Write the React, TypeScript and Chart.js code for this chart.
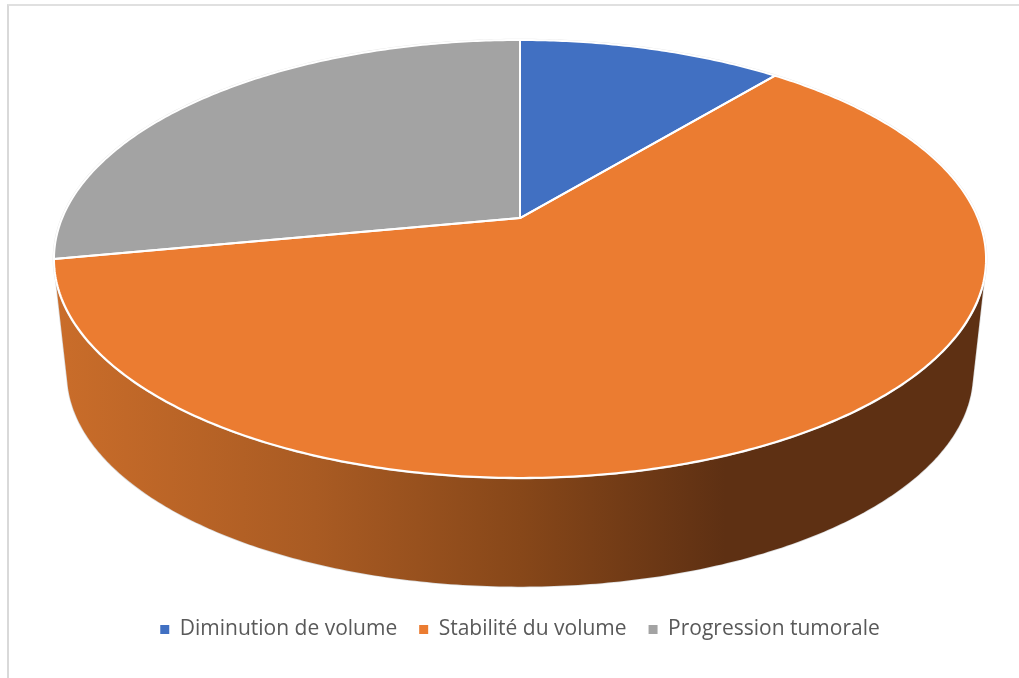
import React, { useEffect, useRef } from "react";
import { Chart, registerables } from "chart.js";

Chart.register(...registerables);

const categories = ["Diminution de volume", "Stabilité du volume", "Progression tumorale"];
const shares = [11, 61, 28];
const sliceColors = ["#4170c2", "#eb7c31", "#a3a3a3"];
const wallStops: [number, string][] = [
  [0, "#ca6d2a"],
  [0.28, "#a95b23"],
  [0.5, "#874719"],
  [0.72, "#5e3013"],
  [1, "#5e3013"],
];

// Perspective of the tilted disc, as ratios of the half width of the chart area.
const K = 0.187;
const BX = 0.9824;
const BY = 0.4534;
const APEX = 0.382;
const FLOOR_SCALE = 0.972;
const FLOOR_DROP = 0.249;

const RX = { v: 1 };

function project(a: number, r: number, cx: number, top: number, lower: boolean) {
  const u = Math.cos(a) * r;
  const v = -Math.sin(a) * r;
  const w = 1 + K * v;
  const s = lower ? FLOOR_SCALE : 1;
  const d = lower ? FLOOR_DROP : 0;
  return { x: cx + (s * BX * u * RX.v) / w, y: top + (APEX + d) * RX.v - (s * BY * v * RX.v) / w };
}

type P = { x: number; y: number };

function hull(points: P[]): P[] {
  const pts = [...points].sort((a, b) => a.x - b.x || a.y - b.y);
  const cross = (o: P, a: P, b: P) => (a.x - o.x) * (b.y - o.y) - (a.y - o.y) * (b.x - o.x);
  const lo: P[] = [];
  for (const p of pts) {
    while (lo.length >= 2 && cross(lo[lo.length - 2], lo[lo.length - 1], p) <= 0) lo.pop();
    lo.push(p);
  }
  const up: P[] = [];
  for (let i = pts.length - 1; i >= 0; i--) {
    const p = pts[i];
    while (up.length >= 2 && cross(up[up.length - 2], up[up.length - 1], p) <= 0) up.pop();
    up.push(p);
  }
  return lo.slice(0, -1).concat(up.slice(0, -1));
}

const disc3d = {
  id: "disc3d",
  beforeDatasetDraw() {
    return false;
  },
  beforeDatasetsDraw(chart: any) {
    const { ctx, chartArea } = chart;
    const cx = (chartArea.left + chartArea.right) / 2;
    RX.v = (chartArea.right - chartArea.left) / 2;
    const top = chartArea.top;
    const arcs = chart.getDatasetMeta(0).data;
    const sample = (a0: number, a1: number, lower: boolean) => {
      const n = Math.max(2, Math.ceil(Math.abs(a1 - a0) * 90));
      const pts: P[] = [];
      for (let i = 0; i <= n; i++) pts.push(project(a0 + ((a1 - a0) * i) / n, 1, cx, top, lower));
      return pts;
    };
    ctx.save();
    ctx.lineJoin = "round";
    arcs.forEach((arc: any) => {
      const { startAngle: a0, endAngle: a1 } = arc;
      if (!(a0 <= Math.PI / 2 && a1 >= Math.PI / 2)) return;
      const path = hull([...sample(a0, a1, false), ...sample(a0, a1, true)]);
      const grad = ctx.createLinearGradient(cx - RX.v, 0, cx + RX.v, 0);
      wallStops.forEach(([o, c]) => grad.addColorStop(o, c));
      ctx.beginPath();
      path.forEach((p, i) => (i ? ctx.lineTo(p.x, p.y) : ctx.moveTo(p.x, p.y)));
      ctx.closePath();
      ctx.strokeStyle = "#dadada";
      ctx.lineWidth = 1.5;
      ctx.stroke();
      ctx.fillStyle = grad;
      ctx.fill();
    });
    const rim = sample(0, Math.PI * 2, false);
    ctx.beginPath();
    rim.forEach((p, i) => (i ? ctx.lineTo(p.x, p.y) : ctx.moveTo(p.x, p.y)));
    ctx.closePath();
    ctx.strokeStyle = "#e6e6e6";
    ctx.lineWidth = 2.6;
    ctx.stroke();
    arcs.forEach((arc: any, i: number) => {
      const apex = project(0, 0, cx, top, false);
      const pts = sample(arc.startAngle, arc.endAngle, false);
      ctx.beginPath();
      ctx.moveTo(apex.x, apex.y);
      pts.forEach((p) => ctx.lineTo(p.x, p.y));
      ctx.closePath();
      ctx.fillStyle = sliceColors[i];
      ctx.fill();
    });
    arcs.forEach((arc: any) => {
      const apex = project(0, 0, cx, top, false);
      const pts = sample(arc.startAngle, arc.endAngle, false);
      ctx.beginPath();
      ctx.moveTo(apex.x, apex.y);
      pts.forEach((p) => ctx.lineTo(p.x, p.y));
      ctx.closePath();
      ctx.strokeStyle = "#ffffff";
      ctx.lineWidth = 2;
      ctx.stroke();
    });
    ctx.restore();
  },
};

export default function App() {
  const ref = useRef<HTMLCanvasElement | null>(null);
  useEffect(() => {
    if (!ref.current) return;
    const chart = new Chart(ref.current, {
      type: "pie",
      data: {
        labels: categories,
        datasets: [{ data: shares, backgroundColor: sliceColors, borderWidth: 0 }],
      },
      plugins: [disc3d],
      options: {
        responsive: false,
        devicePixelRatio: 1,
        animation: false,
        events: [],
        layout: { padding: { left: 54, right: 33, top: 40, bottom: 28 } },
        plugins: {
          tooltip: { enabled: false },
          legend: {
            position: "bottom",
            labels: {
              boxWidth: 9,
              boxHeight: 9,
              padding: 22,
              color: "#595959",
              font: { family: "'Open Sans'", size: 21 },
            },
          },
        },
      },
    } as any);
    return () => chart.destroy();
  }, []);
  return (
    <div style={{ position: "absolute", left: 0, top: 0, width: 1019, height: 678, background: "#fff", overflow: "hidden" }}>
      <div style={{ position: "absolute", left: 7, top: 4, right: 0, bottom: 0, borderLeft: "2px solid #d9d9d9", borderTop: "2px solid #e0e0e0" }} />
      <canvas ref={ref} width={1019} height={678} style={{ position: "absolute", left: 0, top: 0 }} />
    </div>
  );
}
